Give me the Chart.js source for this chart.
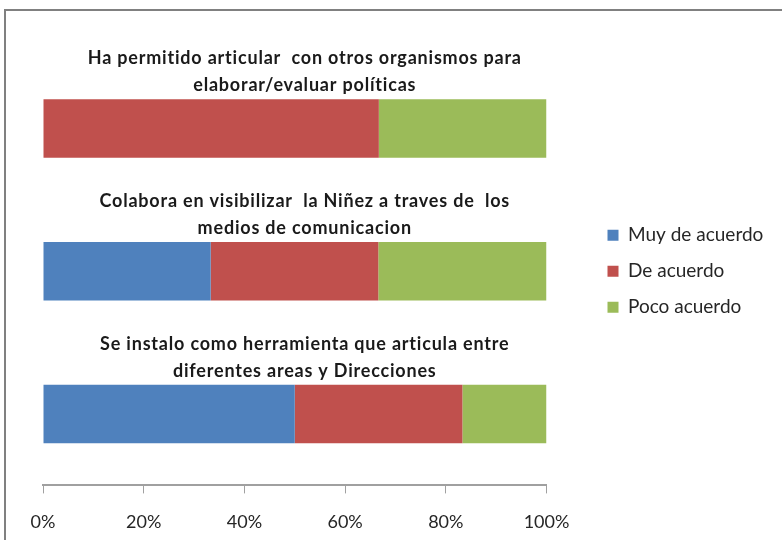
<!DOCTYPE html>
<html>
<head>
<meta charset="utf-8">
<script src="https://cdn.jsdelivr.net/npm/chart.js@4.4.0/dist/chart.umd.min.js"></script>
<style>
    body { margin: 0; background: #fff; overflow: hidden; }
    #marco { position: absolute; left: 4px; top: 9px; width: 900px; height: 700px;
             border-left: 2px solid #808080; border-top: 2px solid #808080; }
    #grafica { position: absolute; left: 0; top: 0; }
</style>
</head>
<body>
<div id="marco"></div>
<canvas id="grafica" width="782" height="540"></canvas>
<script>
// Preguntas (una por barra) y porcentajes de cada respuesta
const preguntas = [
    ['Ha permitido articular  con otros organismos para', 'elaborar/evaluar políticas'],
    ['Colabora en visibilizar  la Niñez a traves de  los', 'medios de comunicacion'],
    ['Se instalo como herramienta que articula entre', 'diferentes areas y Direcciones']
];
const muyDeAcuerdo = [0, 33.3, 50];
const deAcuerdo = [66.7, 33.3, 33.3];
const pocoAcuerdo = [33.3, 33.4, 16.7];
const ticksX = [0, 20, 40, 60, 80, 100];

// Dibuja el texto de cada pregunta encima de su barra
const titulosBarras = {
    id: 'titulosBarras',
    afterDatasetsDraw(chart) {
        let ctx = chart.ctx;
        let area = chart.chartArea;
        let meta = chart.getDatasetMeta(0);
        ctx.save();
        ctx.font = 'bold 18px Lato';
        ctx.letterSpacing = '0.8px';
        ctx.fillStyle = '#1a1a1a';
        ctx.textAlign = 'center';
        ctx.textBaseline = 'middle';
        let cx = (area.left + area.right) / 2 + 10;
        preguntas.forEach(function (lineas, i) {
            let barra = meta.data[i];
            let arriba = barra.y - barra.height / 2;
            ctx.fillText(lineas[0], cx, arriba - 41);
            ctx.fillText(lineas[1], cx, arriba - 14);
        });
        ctx.restore();
    }
};

new Chart(document.getElementById('grafica'), {
    type: 'bar',
    data: {
        labels: preguntas.map(p => p.join(' ')),
        datasets: [{
            label: 'Muy de acuerdo',
            data: muyDeAcuerdo,
            backgroundColor: '#4f81bd'
        }, {
            label: 'De acuerdo',
            data: deAcuerdo,
            backgroundColor: '#c0504d'
        }, {
            label: 'Poco acuerdo',
            data: pocoAcuerdo,
            backgroundColor: '#9bbb59'
        }]
    },
    options: {
        indexAxis: 'y',
        responsive: false,
        animation: false,
        barPercentage: 0.41,
        categoryPercentage: 1,
        layout: { padding: { top: 57, left: 43, right: 9, bottom: -11 } },
        scales: {
            x: {
                stacked: true,
                min: 0,
                max: 100,
                afterBuildTicks: (s) => { s.ticks = ticksX.map(v => ({ value: v })); },
                ticks: {
                    callback: (v) => v + '%',
                    color: '#262626',
                    font: { family: 'Lato', size: 18 },
                    padding: 18,
                    maxRotation: 0
                },
                grid: { drawOnChartArea: false, tickLength: 8, color: '#a0a0a0' },
                border: { color: '#a0a0a0', width: 2 }
            },
            y: {
                stacked: true,
                display: false
            },
            hueco: {
                axis: 'y',
                type: 'category',
                position: 'right',
                grid: { display: false },
                ticks: { display: false },
                border: { display: false },
                afterFit: (s) => { s.width = 44; }
            }
        },
        plugins: {
            legend: {
                position: 'right',
                fullSize: false,
                labels: {
                    boxWidth: 11,
                    boxHeight: 11,
                    padding: 17,
                    color: '#262626',
                    font: { family: 'Lato', size: 19 }
                }
            },
            tooltip: { enabled: false }
        }
    },
    plugins: [titulosBarras]
});
</script>
</body>
</html>
